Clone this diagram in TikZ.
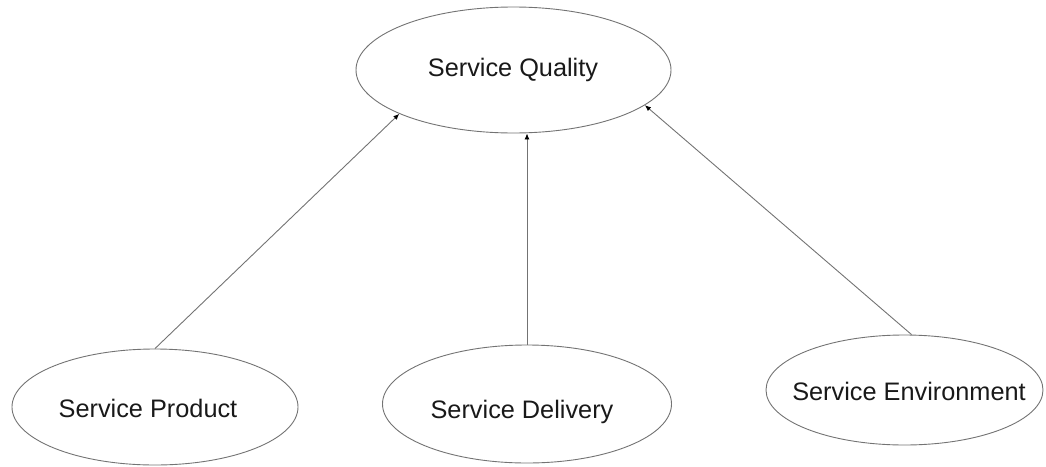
\documentclass[tikz,border=0pt]{standalone}
\usepackage{fontspec}
\setmainfont{Liberation Sans}
\usetikzlibrary{shapes.geometric,arrows.meta}
\tikzset{
  oval/.style={ellipse, draw=black!55, line width=0.9pt, inner sep=0pt},
  lbl/.style={anchor=base, inner sep=0pt, text=black!90, font=\fontsize{25.3}{30}\selectfont},
  link/.style={draw=black!55, line width=0.9pt, -{Latex[length=6pt,width=5pt,black]}}
}
\begin{document}
\begin{tikzpicture}[x=1pt,y=-1pt]
\useasboundingbox (0,0) rectangle (1046,466);
\node[oval, minimum width=315pt, minimum height=126pt] (q) at (513.5,70) {};
\node[oval, minimum width=286pt, minimum height=116pt] (p) at (155,407) {};
\node[oval, minimum width=289pt, minimum height=118pt] (d) at (527,404) {};
\node[oval, minimum width=277pt, minimum height=110pt] (e) at (904.5,390) {};
\node[lbl] (tq) at (513,76) {Service Quality};
\node[lbl] (tp) at (148,417) {Service Product};
\node[lbl] (td) at (522,418) {Service Delivery};
\node[lbl] (te) at (909,400) {Service Environment};
\draw[link] (p.north) -- (q.201.6);
\draw[link] (d.north) -- (d.north |- q.south);
\draw[link] ([xshift=7pt]e.north) -- (q.345.4);
\end{tikzpicture}
\end{document}
